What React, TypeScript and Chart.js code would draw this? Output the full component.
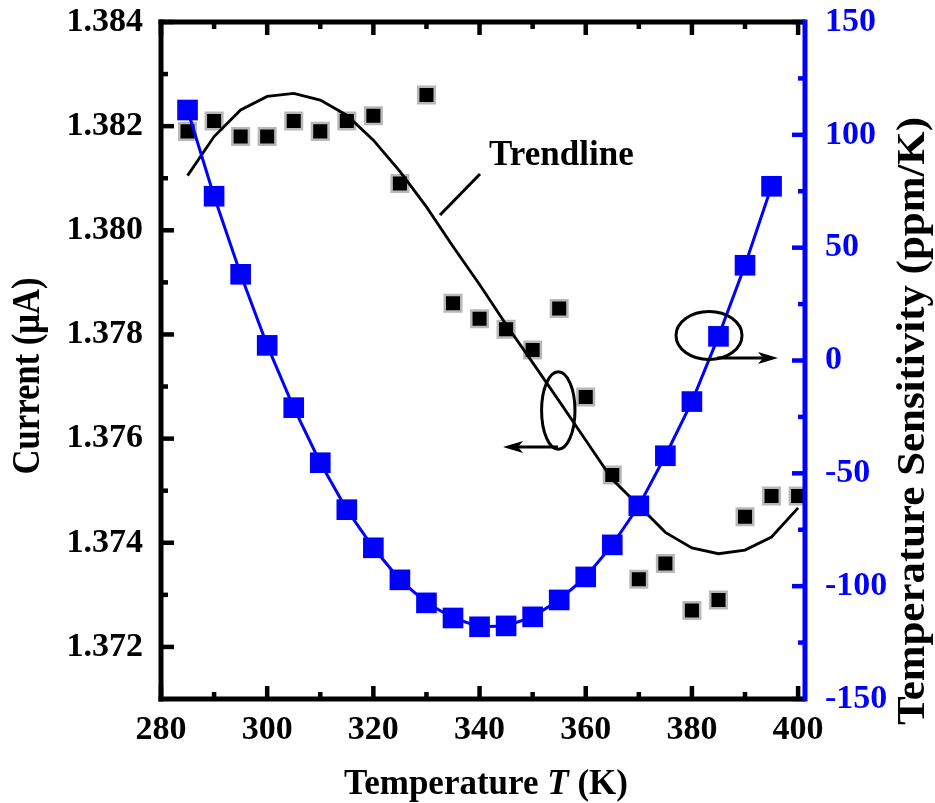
import React, { useEffect, useRef } from 'react';
import { Chart, registerables } from 'chart.js';

Chart.register(...registerables);

// Measured output current vs. temperature (K, µA)
const CURRENT_TEMPS = [285, 290, 295, 300, 305, 310, 315, 320, 325, 330, 335, 340, 345, 350, 355, 360, 365, 370, 375, 380, 385, 390, 395, 400];
const CURRENT_UA = [1.3819, 1.3821, 1.3818, 1.3818, 1.3821, 1.3819, 1.3821, 1.3822, 1.3809, 1.3826, 1.3786, 1.3783, 1.3781, 1.3777, 1.3785, 1.3768, 1.3753, 1.3733, 1.3736, 1.3727, 1.3729, 1.3745, 1.3749, 1.3749];

// Polynomial trendline of the current, sampled every 5 K
const TREND_UA = [1.38105, 1.3818, 1.38231, 1.38257, 1.38263, 1.3825, 1.38221, 1.38173, 1.38113, 1.38045, 1.37969, 1.37896, 1.37819, 1.37746, 1.37672, 1.37597, 1.37522, 1.37471, 1.3742, 1.3739, 1.37379, 1.37386, 1.37411, 1.37467];

// Temperature sensitivity (ppm/K)
const SENS_TEMPS = [285, 290, 295, 300, 305, 310, 315, 320, 325, 330, 335, 340, 345, 350, 355, 360, 365, 370, 375, 380, 385, 390, 395];
const SENSITIVITY_PPM = [111.0, 72.8, 38.2, 6.7, -20.9, -45.3, -66.1, -83.0, -97.2, -107.4, -114.1, -118.0, -117.6, -113.6, -106.1, -95.9, -81.7, -64.4, -42.2, -18.2, 10.7, 42.2, 77.2];

// Axis ticks
const X_TICKS = [280, 300, 320, 340, 360, 380, 400];
const X_MINOR = [290, 310, 330, 350, 370, 390];
const LEFT_TICKS = [1.372, 1.374, 1.376, 1.378, 1.38, 1.382, 1.384];
const LEFT_MINOR = [1.373, 1.375, 1.377, 1.379, 1.381, 1.383];
const RIGHT_TICKS = [-150, -100, -50, 0, 50, 100, 150];
const RIGHT_MINOR = [-125, -75, -25, 25, 75, 125];

const X_RANGE = [280, 401.3];
const LEFT_RANGE = [1.371, 1.384];
const RIGHT_RANGE = [-150, 150];

// Callout positions, in data units
const TREND_LABEL = { x: 341.8, y: 1.381254, text: 'Trendline' };
const TREND_LEADER = { x1: 332.55, y1: 1.380294, x2: 340.09, y2: 1.381081 };
const LEFT_CALLOUT = { cx: 354.83, cy: 1.37654, ax1: 354.78, ax2: 344.42, ay: 1.375839 };
const RIGHT_CALLOUT = { cx: 383.22, cy: 11.1, ax1: 384.73, ax2: 396.22, ay: 1.1 };

const SERIF = "'Liberation Serif', 'Times New Roman', Times, serif";
const BLUE = '#0000ff';
const BLACK = '#000000';

const frameAndTicks = {
  id: 'frameAndTicks',
  afterDatasetsDraw(chart: any) {
    const { ctx, chartArea: a, scales } = chart;
    const sx = scales.x;
    const sl = scales.y;
    const sr = scales.y2;
    const MAJOR = 13;
    const MINOR = 7;
    const TW = 4.5;
    const FW = 5;
    ctx.save();
    ctx.lineCap = 'butt';
    const seg = (x1: number, y1: number, x2: number, y2: number, color: string, w: number) => {
      ctx.strokeStyle = color;
      ctx.lineWidth = w;
      ctx.beginPath();
      ctx.moveTo(x1, y1);
      ctx.lineTo(x2, y2);
      ctx.stroke();
    };
    const xTick = (v: number, len: number) => {
      const p = sx.getPixelForValue(v);
      seg(p, a.bottom, p, a.bottom - len, BLACK, TW);
      seg(p, a.top, p, a.top + len, BLACK, TW);
    };
    X_TICKS.forEach((v) => xTick(v, MAJOR));
    X_MINOR.forEach((v) => xTick(v, MINOR));
    const lTick = (v: number, len: number) => {
      const p = sl.getPixelForValue(v);
      seg(a.left, p, a.left + len, p, BLACK, TW);
    };
    LEFT_TICKS.forEach((v) => lTick(v, MAJOR));
    LEFT_MINOR.forEach((v) => lTick(v, MINOR));
    const rTick = (v: number, len: number) => {
      const p = sr.getPixelForValue(v);
      seg(a.right, p, a.right - len, p, BLUE, TW);
    };
    RIGHT_TICKS.forEach((v) => rTick(v, MAJOR));
    RIGHT_MINOR.forEach((v) => rTick(v, MINOR));

    seg(a.left - FW / 2, a.top, a.right, a.top, BLACK, FW);
    seg(a.left - FW / 2, a.bottom, a.right, a.bottom, BLACK, FW);
    seg(a.left, a.top - FW / 2, a.left, a.bottom + FW / 2, BLACK, FW);
    seg(a.right, a.top - FW / 2, a.right, a.bottom + FW / 2, BLUE, FW);
    ctx.restore();
  },
};

function arrow(ctx: CanvasRenderingContext2D, x1: number, y: number, x2: number) {
  const dir = Math.sign(x2 - x1);
  const head = 20;
  const half = 6;
  ctx.beginPath();
  ctx.moveTo(x1, y);
  ctx.lineTo(x2 - dir * head * 0.6, y);
  ctx.stroke();
  ctx.beginPath();
  ctx.moveTo(x2, y);
  ctx.lineTo(x2 - dir * head, y - half);
  ctx.lineTo(x2 - dir * head * 0.75, y);
  ctx.lineTo(x2 - dir * head, y + half);
  ctx.closePath();
  ctx.fill();
}

const callouts = {
  id: 'callouts',
  afterDatasetsDraw(chart: any) {
    const { ctx, scales } = chart;
    const sx = scales.x;
    const sl = scales.y;
    const sr = scales.y2;
    ctx.save();
    ctx.strokeStyle = BLACK;
    ctx.fillStyle = BLACK;
    ctx.lineWidth = 3;

    // Trendline label and leader
    ctx.font = `bold 35px ${SERIF}`;
    ctx.textBaseline = 'alphabetic';
    ctx.textAlign = 'left';
    ctx.fillText(TREND_LABEL.text, sx.getPixelForValue(TREND_LABEL.x), sl.getPixelForValue(TREND_LABEL.y));
    ctx.beginPath();
    ctx.moveTo(sx.getPixelForValue(TREND_LEADER.x1), sl.getPixelForValue(TREND_LEADER.y1));
    ctx.lineTo(sx.getPixelForValue(TREND_LEADER.x2), sl.getPixelForValue(TREND_LEADER.y2));
    ctx.stroke();

    // Left-axis callout (current data)
    ctx.beginPath();
    ctx.ellipse(sx.getPixelForValue(LEFT_CALLOUT.cx), sl.getPixelForValue(LEFT_CALLOUT.cy), 16.7, 38.8, 0, 0, Math.PI * 2);
    ctx.stroke();
    arrow(ctx, sx.getPixelForValue(LEFT_CALLOUT.ax1), sl.getPixelForValue(LEFT_CALLOUT.ay), sx.getPixelForValue(LEFT_CALLOUT.ax2));

    // Right-axis callout (sensitivity data)
    ctx.beginPath();
    ctx.ellipse(sx.getPixelForValue(RIGHT_CALLOUT.cx), sr.getPixelForValue(RIGHT_CALLOUT.cy), 33, 24, 0, 0, Math.PI * 2);
    ctx.stroke();
    arrow(ctx, sx.getPixelForValue(RIGHT_CALLOUT.ax1), sr.getPixelForValue(RIGHT_CALLOUT.ay), sx.getPixelForValue(RIGHT_CALLOUT.ax2));
    ctx.restore();
  },
};

type Part = { text: string; italic?: boolean };

function drawRotatedTitle(ctx: CanvasRenderingContext2D, text: string, size: number, length: number, cx: number, cy: number) {
  ctx.save();
  ctx.font = `bold ${size}px ${SERIF}`;
  const w = ctx.measureText(text).width;
  ctx.translate(cx, cy);
  ctx.rotate(-Math.PI / 2);
  ctx.scale(length / w, 1);
  ctx.textAlign = 'center';
  ctx.textBaseline = 'middle';
  ctx.fillStyle = BLACK;
  ctx.fillText(text, 0, 0);
  ctx.restore();
}

function drawParts(ctx: CanvasRenderingContext2D, parts: Part[], size: number, cx: number, baseline: number) {
  ctx.save();
  ctx.fillStyle = BLACK;
  ctx.textBaseline = 'alphabetic';
  ctx.textAlign = 'left';
  const fontOf = (p: Part) => `${p.italic ? 'italic ' : ''}bold ${size}px ${SERIF}`;
  let total = 0;
  const widths = parts.map((p) => {
    ctx.font = fontOf(p);
    const w = ctx.measureText(p.text).width;
    total += w;
    return w;
  });
  let x = cx - total / 2;
  parts.forEach((p, i) => {
    ctx.font = fontOf(p);
    ctx.fillText(p.text, x, baseline);
    x += widths[i];
  });
  ctx.restore();
}

const titles = {
  id: 'titles',
  afterDraw(chart: any) {
    const { ctx, chartArea: a } = chart;
    drawRotatedTitle(ctx, 'Current (μA)', 40, 197, 29, 376);
    drawRotatedTitle(ctx, 'Temperature Sensitivity (ppm/K)', 41, 608, 913, 421);
    drawParts(ctx, [{ text: 'Temperature ' }, { text: 'T', italic: true }, { text: ' (K)' }], 35, (a.left + a.right) / 2 + 3, 794);
  },
};

const tickFont = { family: SERIF, size: 34, weight: 'bold' as const, lineHeight: 1 };

export default function App() {
  const ref = useRef<HTMLCanvasElement | null>(null);

  useEffect(() => {
    if (!ref.current) return;
    const chart = new Chart(ref.current, {
      type: 'line',
      data: {
        datasets: [
          {
            label: 'Temperature Sensitivity',
            data: SENS_TEMPS.map((t, i) => ({ x: t, y: SENSITIVITY_PPM[i] })),
            yAxisID: 'y2',
            borderColor: BLUE,
            backgroundColor: BLUE,
            borderWidth: 3,
            pointStyle: 'rect',
            pointRadius: 14.6,
            pointBorderWidth: 0,
            tension: 0,
            order: 0,
          },
          {
            label: 'Trendline',
            data: CURRENT_TEMPS.map((t, i) => ({ x: t, y: TREND_UA[i] })),
            yAxisID: 'y',
            borderColor: BLACK,
            borderWidth: 2.8,
            pointRadius: 0,
            tension: 0,
            order: 1,
          },
          {
            label: 'Current',
            data: CURRENT_TEMPS.map((t, i) => ({ x: t, y: CURRENT_UA[i] })),
            yAxisID: 'y',
            showLine: false,
            backgroundColor: BLACK,
            borderColor: '#b8b8b8',
            pointStyle: 'rect',
            pointRadius: 11.7,
            pointBorderWidth: 2.5,
            order: 2,
          },
        ],
      },
      options: {
        responsive: false,
        animation: false,
        devicePixelRatio: 1,
        layout: { padding: { top: 22, left: 0, right: 0, bottom: 0 } },
        plugins: { legend: { display: false }, tooltip: { enabled: false } },
        scales: {
          x: {
            type: 'linear',
            position: 'bottom',
            min: X_RANGE[0],
            max: X_RANGE[1],
            grid: { display: false, drawTicks: false },
            border: { display: false },
            afterBuildTicks: (s: any) => {
              s.ticks = X_TICKS.map((value) => ({ value }));
            },
            afterFit: (s: any) => {
              s.height = 104;
              s.paddingLeft = 0;
              s.paddingRight = 0;
            },
            ticks: {
              font: tickFont,
              color: BLACK,
              padding: 14,
              maxRotation: 0,
              autoSkip: false,
              callback: (v: any) => String(v),
            },
          },
          y: {
            type: 'linear',
            position: 'left',
            min: LEFT_RANGE[0],
            max: LEFT_RANGE[1],
            grid: { display: false, drawTicks: false },
            border: { display: false },
            afterBuildTicks: (s: any) => {
              s.ticks = LEFT_TICKS.map((value) => ({ value }));
            },
            afterFit: (s: any) => {
              s.width = 161;
              s.paddingTop = 0;
              s.paddingBottom = 0;
            },
            ticks: {
              font: tickFont,
              color: BLACK,
              padding: 18,
              autoSkip: false,
              callback: (v: any) => Number(v).toFixed(3),
            },
          },
          y2: {
            type: 'linear',
            position: 'right',
            min: RIGHT_RANGE[0],
            max: RIGHT_RANGE[1],
            grid: { display: false, drawTicks: false },
            border: { display: false },
            afterBuildTicks: (s: any) => {
              s.ticks = RIGHT_TICKS.map((value) => ({ value }));
            },
            afterFit: (s: any) => {
              s.width = 130;
              s.paddingTop = 0;
              s.paddingBottom = 0;
            },
            ticks: {
              font: tickFont,
              color: BLUE,
              padding: 20,
              autoSkip: false,
              callback: (v: any) => String(v),
            },
          },
        },
      },
      plugins: [frameAndTicks, callouts, titles],
    } as any);
    return () => chart.destroy();
  }, []);

  return (
    <canvas
      ref={ref}
      width={935}
      height={803}
      style={{ position: 'absolute', left: 0, top: 0, display: 'block' }}
    />
  );
}
